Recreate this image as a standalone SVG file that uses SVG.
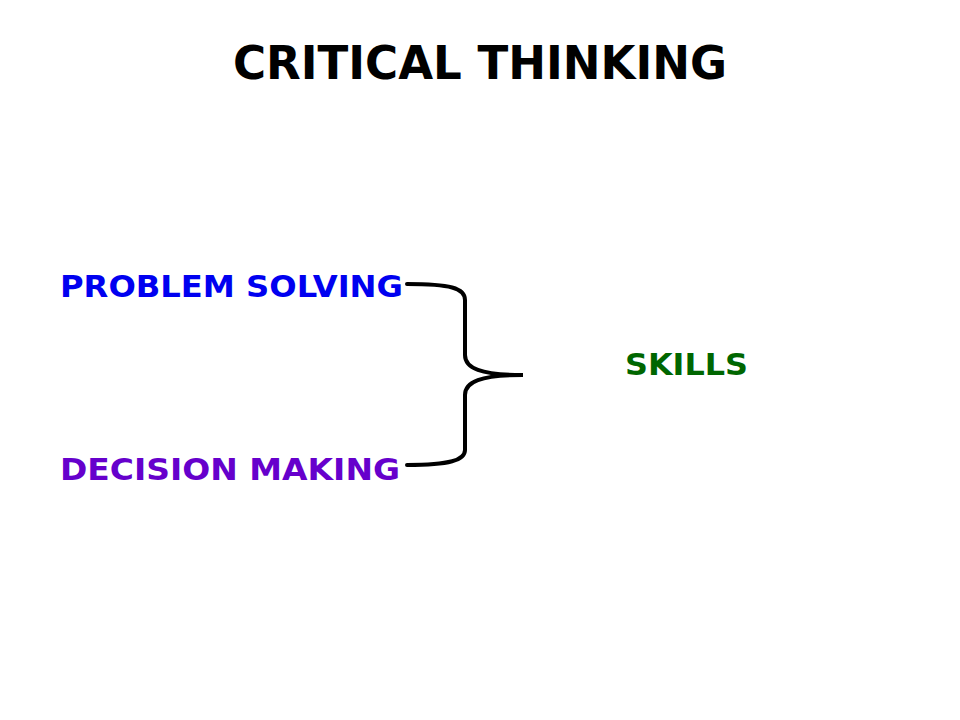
<svg xmlns="http://www.w3.org/2000/svg" width="960" height="720" viewBox="0 0 960 720">
<style>
text{font-family:"DejaVu Sans","Verdana",sans-serif;font-weight:bold}
.lbl{font-size:31px}
.conn{fill:none;stroke:#000;stroke-width:4;stroke-linecap:round}
</style>
<rect width="960" height="720" fill="#fff"/>
<g id="title"><text x="233" y="79" font-size="46" fill="#000" textLength="494" lengthAdjust="spacingAndGlyphs">CRITICAL THINKING</text></g>
<g id="problem-solving"><text class="lbl" x="60" y="297" fill="#0000F0" textLength="343" lengthAdjust="spacingAndGlyphs">PROBLEM SOLVING</text></g>
<g id="decision-making"><text class="lbl" x="60" y="480" fill="#6600CC" textLength="340" lengthAdjust="spacingAndGlyphs">DECISION MAKING</text></g>
<g id="skills"><text class="lbl" x="625" y="375" fill="#006600" textLength="123" lengthAdjust="spacingAndGlyphs">SKILLS</text></g>
<g id="connectors">
<path class="conn" d="M407,284 C450,284 465,288 465,300 L465,355 C465,368 480,375 523,375 C480,375 465,382 465,395 L465,450 C465,460 450,465 407,465"/>
</g>
</svg>
